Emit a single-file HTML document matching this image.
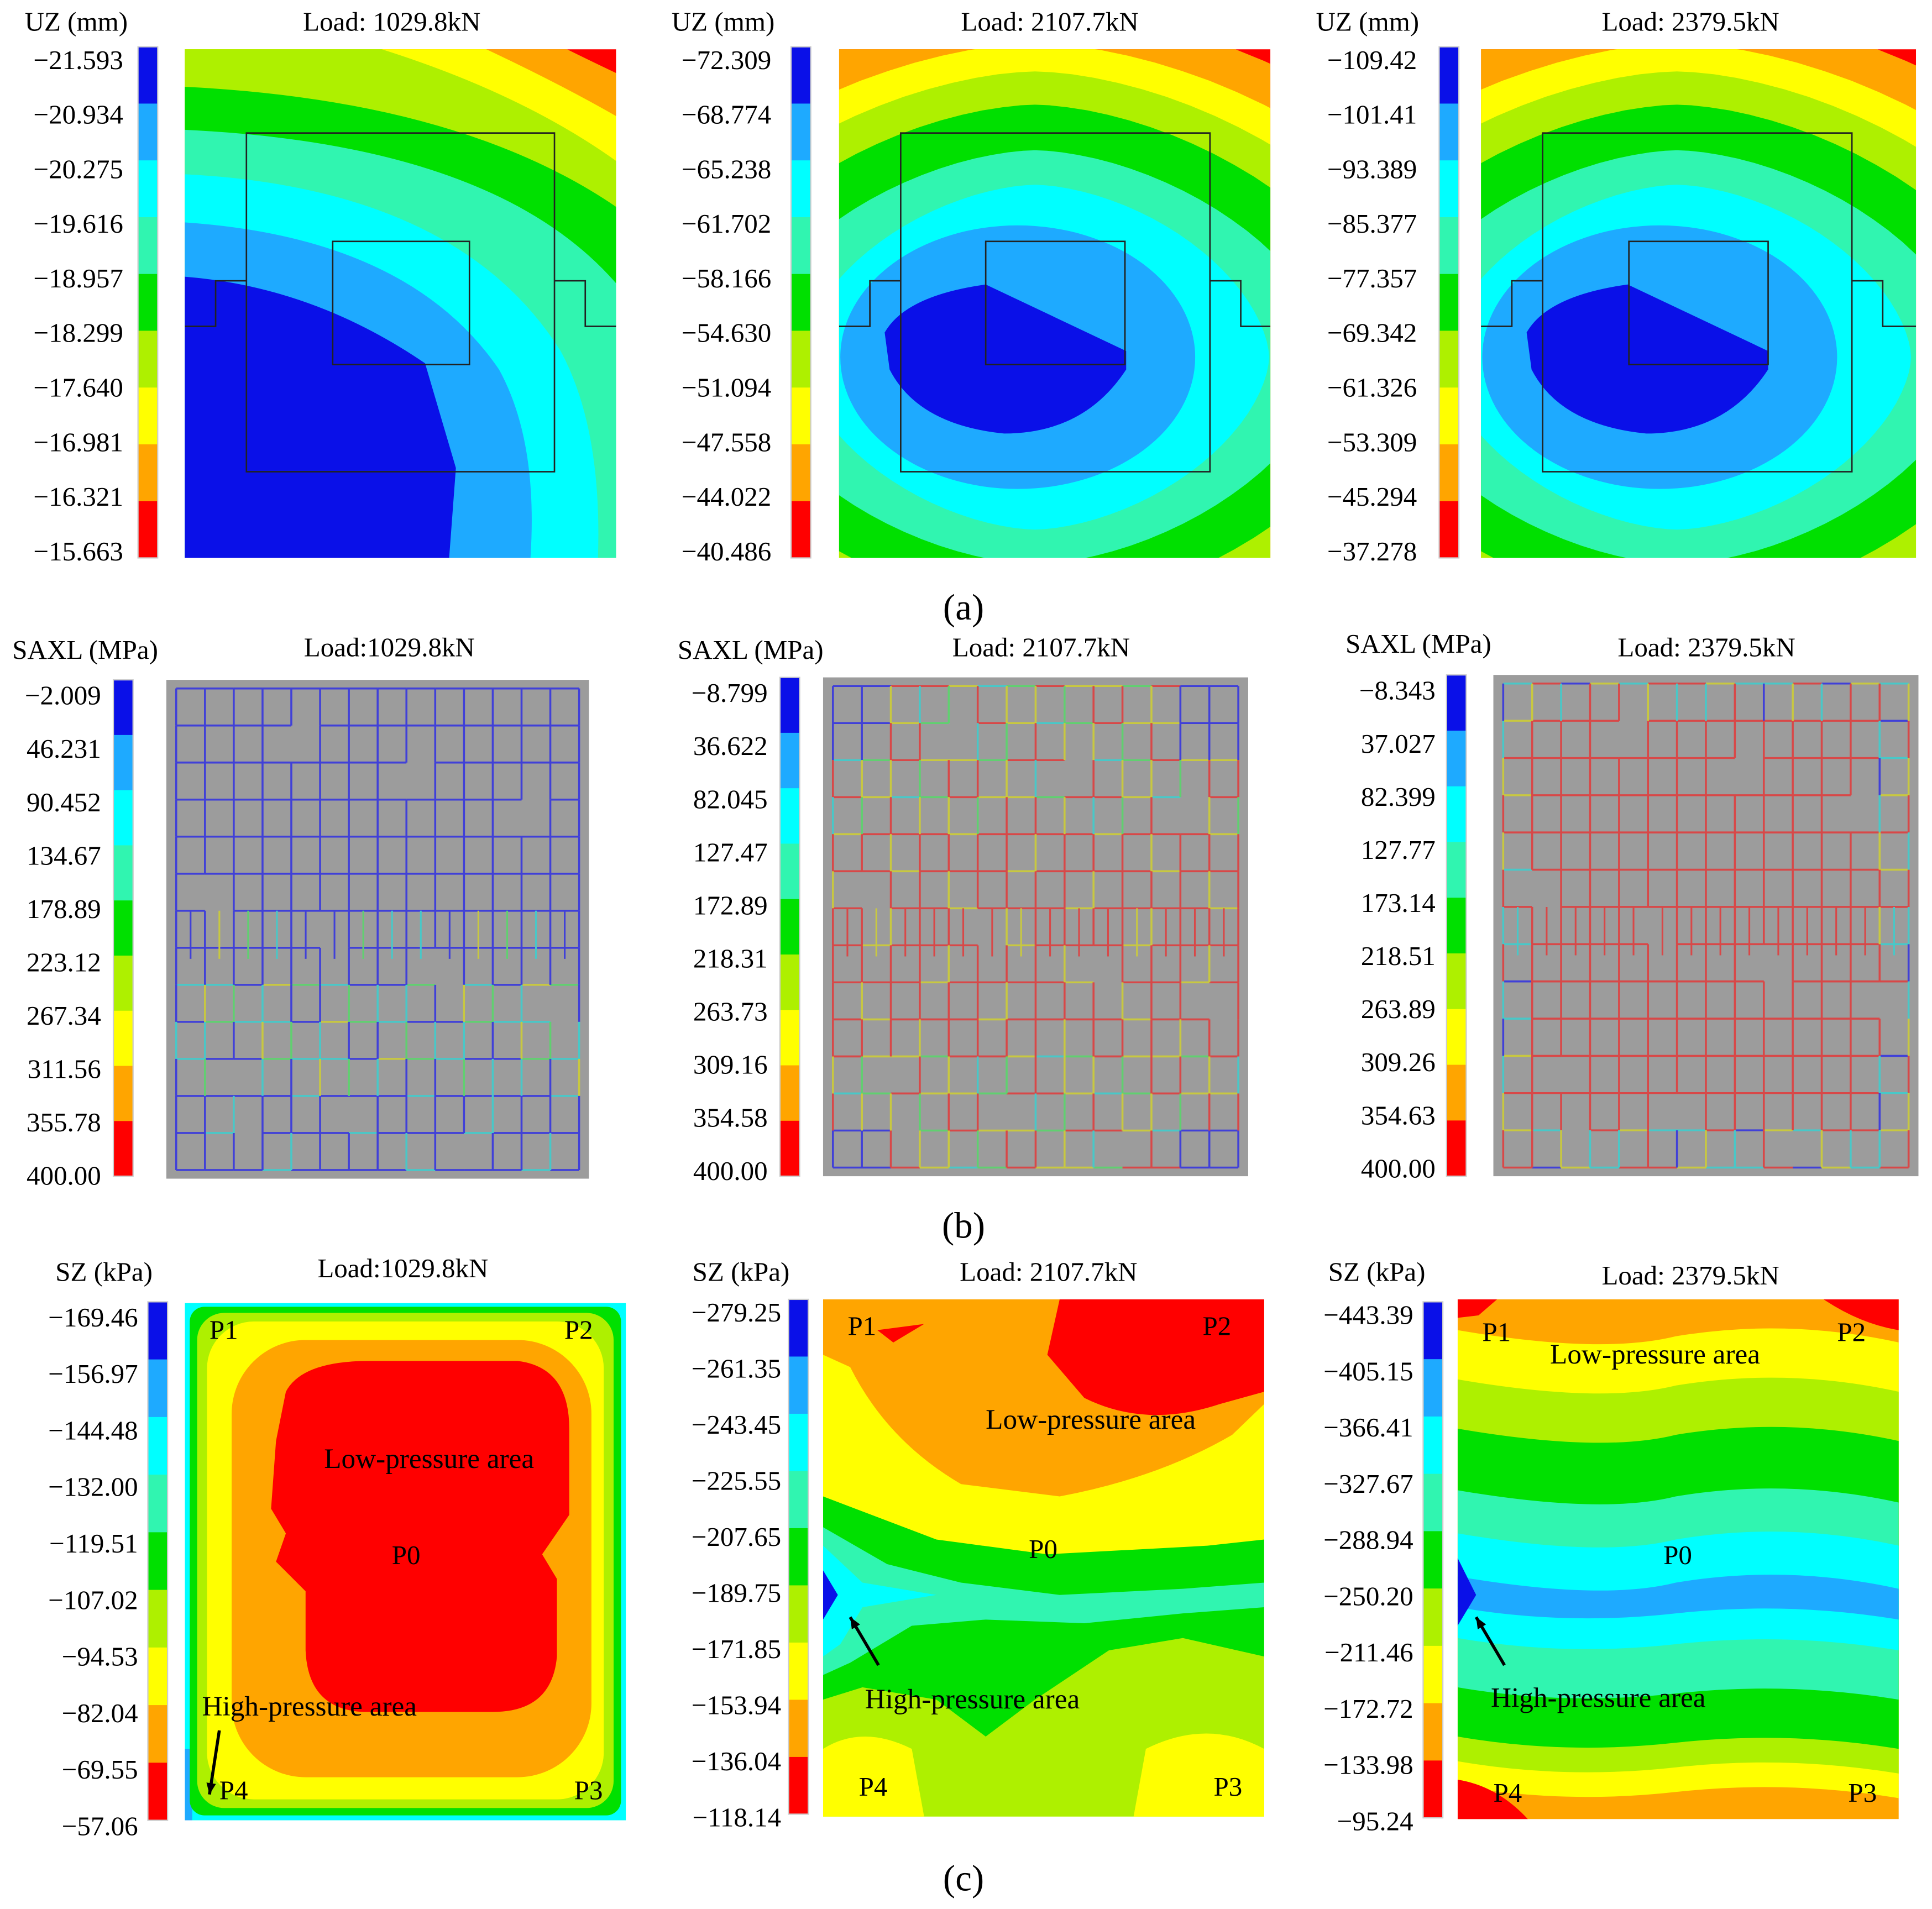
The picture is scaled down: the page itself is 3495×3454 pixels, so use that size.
<!DOCTYPE html>
<html><head><meta charset="utf-8"><style>
html,body{margin:0;padding:0;background:#fff;}
svg{display:block;}
text{font-family:"Liberation Serif",serif;fill:#000;}
</style></head><body>
<svg id="fig" width="3495" height="3454" viewBox="0 0 1568 1550" preserveAspectRatio="none" xmlns="http://www.w3.org/2000/svg">
<defs>
<clipPath id="ca1"><rect x="150" y="40" width="350" height="413"/></clipPath>
<clipPath id="ca2"><rect x="681" y="40" width="350" height="413"/></clipPath>
<clipPath id="ca3"><rect x="1202" y="40" width="353" height="413"/></clipPath>
<clipPath id="cc1"><rect x="150" y="1058" width="358" height="420"/></clipPath>
<clipPath id="cc2"><rect x="668" y="1055" width="358" height="420"/></clipPath>
<clipPath id="cc3"><rect x="1183" y="1055" width="358" height="422"/></clipPath>
</defs>
<g id="root"></g>
</svg>
<script>
var NS="http://www.w3.org/2000/svg";
var root=document.getElementById('root');
var COLORS=["#0a10e8","#1eaaff","#00ffff","#30f5b0","#00e000","#aef000","#ffff00","#ffa500","#ff0000"];
var uzLabels1=["−21.593","−20.934","−20.275","−19.616","−18.957","−18.299","−17.640","−16.981","−16.321","−15.663"];
var uzLabels2=["−72.309","−68.774","−65.238","−61.702","−58.166","−54.630","−51.094","−47.558","−44.022","−40.486"];
var uzLabels3=["−109.42","−101.41","−93.389","−85.377","−77.357","−69.342","−61.326","−53.309","−45.294","−37.278"];
var saxlLabels1=["−2.009","46.231","90.452","134.67","178.89","223.12","267.34","311.56","355.78","400.00"];
var saxlLabels2=["−8.799","36.622","82.045","127.47","172.89","218.31","263.73","309.16","354.58","400.00"];
var saxlLabels3=["−8.343","37.027","82.399","127.77","173.14","218.51","263.89","309.26","354.63","400.00"];
var szLabels1=["−169.46","−156.97","−144.48","−132.00","−119.51","−107.02","−94.53","−82.04","−69.55","−57.06"];
var szLabels2=["−279.25","−261.35","−243.45","−225.55","−207.65","−189.75","−171.85","−153.94","−136.04","−118.14"];
var szLabels3=["−443.39","−405.15","−366.41","−327.67","−288.94","−250.20","−211.46","−172.72","−133.98","−95.24"];

function el(tag,attrs,parent){var e=document.createElementNS(NS,tag);for(var k in attrs)e.setAttribute(k,attrs[k]);(parent||root).appendChild(e);return e;}
function txt(x,y,s,size,anchor,name,parent){var t=el('text',{x:x,y:y,'font-size':size,'text-anchor':anchor||'start'},parent);t.textContent=s;


return t;}
function colorbar(x,y0,y1,labels,lx,ly0,ly1,name){
  var g=el('g',{});
  
  
  var h=(y1-y0)/9;
  for(var i=0;i<9;i++){el('rect',{x:x,y:y0+i*h,width:16,height:h+0.3,fill:COLORS[i]},g);}
  el('rect',{x:x,y:y0,width:16,height:y1-y0,fill:'none',stroke:'#ccc','stroke-width':1},g);
  for(var j=0;j<labels.length;j++){txt(lx,ly0+(ly1-ly0)*j/9,labels[j],22,'end','colorbar-label',g);}
}
function grp(name,clip){var g=el('g',clip?{'clip-path':'url(#'+clip+')'}:{});


return g;}
function superEllipse(cx,cy,rx,ry,n){
  var pts=[];for(var k=0;k<96;k++){var t=k/96*2*Math.PI,c=Math.cos(t),s=Math.sin(t);
    pts.push((cx+rx*Math.sign(c)*Math.pow(Math.abs(c),2/n)).toFixed(1)+','+(cy+ry*Math.sign(s)*Math.pow(Math.abs(s),2/n)).toFixed(1));}
  return pts.join(' ');
}

/* ---------- Row (a) ---------- */
txt(20,25,"UZ (mm)",22,'start','uz-title-1');
txt(318,25,"Load: 1029.8kN",22,'middle','load-title-a1');
txt(545,25,"UZ (mm)",22,'start','uz-title-2');
txt(852,25,"Load: 2107.7kN",22,'middle','load-title-a2');
txt(1068,25,"UZ (mm)",22,'start','uz-title-3');
txt(1372,25,"Load: 2379.5kN",22,'middle','load-title-a3');
colorbar(112,38,453,uzLabels1,100,56,455,'uz-colorbar-1');
colorbar(642,38,453,uzLabels2,626,56,455,'uz-colorbar-2');
colorbar(1168,38,453,uzLabels3,1150,56,455,'uz-colorbar-3');

(function(){
  var g=grp('uz-contour-1','ca1');
  el('rect',{x:150,y:40,width:350,height:413,fill:COLORS[8]},g);
  var P=[
   [7,'M 440 30 Q 480 50 510 64',true],
   [6,'M 373 30 Q 450 65 510 100',true],
   [5,'M 276 30 Q 420 70 510 138',true],
   [4,'M 140 70 Q 380 80 510 175',false],
   [3,'M 140 105 Q 400 115 500 230 L 510 300',false],
   [2,'M 140 141 Q 370 150 455 285 Q 490 350 485 460',false],
   [1,'M 140 180 Q 330 190 405 300 Q 438 360 430 460',false],
   [0,'M 140 224 Q 250 230 345 295 L 370 380 L 364 460',false]];
  for(var i=0;i<P.length;i++){el('path',{d:P[i][1]+' L 510 470 L 140 470'+(P[i][2]?' L 140 30':'')+' Z',fill:COLORS[P[i][0]]},g);}
})();
function uzCentral(cx,cy,clip,name,xs){
  var g=grp(name,clip);
  el('rect',{x:xs,y:40,width:355,height:413,fill:COLORS[8]},g);
  var rs=[[420,285],[370,255],[330,232],[290,205],[240,168],[190,140]];
  var cs=[7,6,5,4,3,2];
  for(var i=0;i<rs.length;i++)el('polygon',{points:superEllipse(cx,cy,rs[i][0],rs[i][1],1.7),fill:COLORS[cs[i]]},g);
  el('ellipse',{cx:cx-14,cy:cy,rx:144,ry:107,fill:COLORS[1]},g);
  var dx=cx-840;
  el('path',{d:'M '+(718+dx)+' 270 Q '+(735+dx)+' 240 '+(800+dx)+' 231 L '+(914+dx)+' 285 L '+(914+dx)+' 300 Q '+(880+dx)+' 352 '+(815+dx)+' 352 Q '+(745+dx)+' 345 '+(722+dx)+' 300 Z',fill:COLORS[0]},g);
}
uzCentral(840,290,'ca2','uz-contour-2',681);
uzCentral(1361,290,'ca3','uz-contour-3',1202);
(function(){
  var ol=[[0,200,450,270,381,150,500],[1,731,982,800,913,681,1031],[2,1252,1503,1322,1435,1202,1555]];
  for(var i=0;i<3;i++){var o=ol[i];var g=grp('column-outline-'+(i+1));
    el('rect',{x:o[1],y:108,width:o[2]-o[1],height:275,fill:'none',stroke:'#222','stroke-width':1.2},g);
    el('rect',{x:o[3],y:196,width:o[4]-o[3],height:100,fill:'none',stroke:'#222','stroke-width':1.2},g);
    el('path',{d:'M '+o[5]+' 265 L '+(o[5]+25)+' 265 L '+(o[5]+25)+' 228 L '+o[1]+' 228',fill:'none',stroke:'#222','stroke-width':1.2},g);
    el('path',{d:'M '+o[2]+' 228 L '+(o[2]+25)+' 228 L '+(o[2]+25)+' 265 L '+o[6]+' 265',fill:'none',stroke:'#222','stroke-width':1.2},g);
  }
})();
txt(782,503,"(a)",30,'middle','subfigure-label-a');

/* ---------- Row (b) ---------- */
txt(10,535,"SAXL (MPa)",22,'start','saxl-title-1');
txt(316,533,"Load:1029.8kN",22,'middle','load-title-b1');
txt(550,535,"SAXL (MPa)",22,'start','saxl-title-2');
txt(845,533,"Load: 2107.7kN",22,'middle','load-title-b2');
txt(1092,530,"SAXL (MPa)",22,'start','saxl-title-3');
txt(1385,533,"Load: 2379.5kN",22,'middle','load-title-b3');
colorbar(92,552,955,saxlLabels1,82,572,962,'saxl-colorbar-1');
colorbar(633,550,955,saxlLabels2,623,570,958,'saxl-colorbar-2');
colorbar(1174,548,955,saxlLabels3,1165,568,956,'saxl-colorbar-3');
function mesh(x0,y0,w,h,mode,name){
  var g=grp(name);
  el('rect',{x:x0,y:y0,width:w,height:h,fill:'#9c9c9c'},g);
  var ix=x0+8,iy=y0+7,iw=w-16,ih=h-14,nc=14,nr=13;
  var cw=iw/nc,rh=ih/nr;
  function col(i,j,vert){
    var r=j/nr,edge=(i<=0||i>=nc-1||j<=0||j>=nr-1);
    var hsh=(i*7+j*13+(vert?5:0))%9;
    if(mode===1){ if(r>0.58&&r<0.78) return hsh<3?'#4040d8':(hsh<6?'#48c8c8':(hsh<8?'#60d070':'#c8c840'));
      if(r>=0.78) return hsh<2?'#48c8c8':'#4040d8'; return '#4040d8';}
    if(mode===2){ var corner=((i<=1||i>=nc-2)&&(j<=1||j>=nr-1)); if(corner) return '#4040d8';
      if(r>0.3&&r<0.75) return hsh<7?'#d84848':'#c8c840';
      return hsh<3?'#c8c840':(hsh<6?'#d84848':(hsh<8?'#60d070':'#48c8c8'));}
    if(edge) return hsh<3?'#48c8c8':(hsh<5?'#c8c840':(hsh<6?'#4040d8':'#d84848'));
    return '#d84848';
  }
  for(var j=0;j<=nr;j++)for(var i=0;i<nc;i++){
    if(((i*5+j*3)%23)===0&&j>0&&j<nr)continue;
    el('line',{x1:ix+i*cw,y1:iy+j*rh,x2:ix+(i+1)*cw,y2:iy+j*rh,stroke:col(i,j,false),'stroke-width':1.6},g);}
  for(var i2=0;i2<=nc;i2++)for(var j2=0;j2<nr;j2++){
    if(((i2*3+j2*7)%19)===0&&i2>0&&i2<nc)continue;
    el('line',{x1:ix+i2*cw,y1:iy+j2*rh,x2:ix+i2*cw,y2:iy+(j2+1)*rh,stroke:col(i2,j2,true),'stroke-width':1.6},g);}
  for(var k=0;k<nc;k++){var xx=ix+(k+0.5)*cw;
    el('line',{x1:xx,y1:iy+6*rh,x2:xx,y2:iy+7.3*rh,stroke:col(k,8,true),'stroke-width':1.4},g);}
}
mesh(135,552,343,405,1,'saxl-mesh-1');
mesh(668,550,345,405,2,'saxl-mesh-2');
mesh(1212,548,345,407,3,'saxl-mesh-3');
txt(782,1005,"(b)",30,'middle','subfigure-label-b');

/* ---------- Row (c) ---------- */
txt(45,1040,"SZ (kPa)",22,'start','sz-title-1');
txt(327,1037,"Load:1029.8kN",22,'middle','load-title-c1');
txt(562,1040,"SZ (kPa)",22,'start','sz-title-2');
txt(851,1040,"Load: 2107.7kN",22,'middle','load-title-c2');
txt(1078,1040,"SZ (kPa)",22,'start','sz-title-3');
txt(1372,1043,"Load: 2379.5kN",22,'middle','load-title-c3');
colorbar(120,1057,1478,szLabels1,112,1077,1490,'sz-colorbar-1');
colorbar(640,1055,1473,szLabels2,634,1073,1483,'sz-colorbar-2');
colorbar(1155,1057,1476,szLabels3,1147,1075,1486,'sz-colorbar-3');
(function(){
  var g=grp('sz-contour-1','cc1');
  el('rect',{x:150,y:1058,width:358,height:420,fill:COLORS[2]},g);
  el('rect',{x:150,y:1420,width:6,height:58,fill:COLORS[1]},g);
  el('rect',{x:154,y:1061,width:350,height:413,rx:12,fill:COLORS[4]},g);
  el('rect',{x:160,y:1066,width:338,height:402,rx:22,fill:COLORS[5]},g);
  el('rect',{x:168,y:1073,width:322,height:388,rx:38,fill:COLORS[6]},g);
  el('rect',{x:188,y:1088,width:292,height:355,rx:60,fill:COLORS[7]},g);
  el('path',{d:'M 232 1130 Q 245 1105 300 1105 L 420 1105 Q 462 1110 462 1160 L 462 1230 L 440 1262 L 452 1282 L 452 1345 Q 448 1390 400 1390 L 295 1390 Q 250 1388 248 1340 L 248 1292 L 224 1268 L 232 1245 L 220 1225 L 224 1170 Z',fill:COLORS[8]},g);
})();
(function(){
  var g=grp('sz-contour-2','cc2');
  el('rect',{x:668,y:1055,width:358,height:420,fill:COLORS[5]},g);
  el('path',{d:'M 668 1055 L 1026 1055 L 1026 1300 L 960 1290 Q 900 1300 850 1290 L 760 1290 L 668 1270 Z',fill:COLORS[6]},g);
  el('path',{d:'M 668 1215 L 760 1250 L 850 1262 L 980 1255 L 1026 1250 L 1026 1345 L 960 1330 L 900 1340 L 840 1380 L 800 1410 L 760 1380 L 700 1370 L 668 1380 Z',fill:COLORS[4]},g);
  el('path',{d:'M 668 1240 L 720 1270 L 780 1285 L 860 1295 L 960 1290 L 1026 1285 L 1026 1305 L 960 1310 L 880 1318 L 800 1315 L 740 1320 L 690 1350 L 668 1360 Z',fill:COLORS[3]},g);
  el('path',{d:'M 668 1255 L 700 1285 L 760 1295 L 700 1305 L 682 1335 L 668 1345 Z',fill:COLORS[2]},g);
  el('path',{d:'M 668 1275 L 680 1295 L 668 1315 Z',fill:COLORS[0]},g);
  el('path',{d:'M 668 1055 L 1026 1055 L 1026 1140 L 1000 1165 Q 940 1200 860 1215 L 780 1205 Q 720 1170 690 1110 L 668 1100 Z',fill:COLORS[7]},g);
  el('path',{d:'M 860 1055 L 1026 1055 L 1026 1130 L 990 1140 Q 930 1160 880 1135 L 850 1100 Z',fill:COLORS[8]},g);
  el('path',{d:'M 712 1080 L 750 1075 L 725 1090 Z',fill:COLORS[8]},g);
  el('path',{d:'M 668 1420 Q 700 1400 740 1420 L 750 1475 L 668 1475 Z',fill:COLORS[6]},g);
  el('path',{d:'M 920 1475 L 930 1420 Q 980 1395 1026 1420 L 1026 1475 Z',fill:COLORS[6]},g);
})();
(function(){
  var g=grp('sz-contour-3','cc3');
  el('rect',{x:1183,y:1055,width:358,height:422,fill:COLORS[7]},g);
  var bands=[[6,1085,1455],[5,1125,1435],[4,1165,1415],[3,1215,1375],[2,1250,1335],[1,1285,1310]];
  for(var i=0;i<bands.length;i++){var b=bands[i];
    el('path',{d:'M 1183 '+(b[1]-5)+' Q 1300 '+(b[1]+15)+' 1360 '+b[1]+' Q 1450 '+(b[1]-15)+' 1541 '+(b[1]+5)+' L 1541 '+(b[2]+5)+' Q 1450 '+(b[2]-10)+' 1360 '+b[2]+' Q 1270 '+(b[2]+10)+' 1183 '+(b[2]-5)+' Z',fill:COLORS[b[0]]},g);}
  el('path',{d:'M 1183 1265 L 1198 1295 L 1183 1320 Z',fill:COLORS[0]},g);
  el('path',{d:'M 1183 1055 L 1215 1055 L 1200 1068 L 1183 1070 Z',fill:COLORS[8]},g);
  el('path',{d:'M 1480 1055 L 1541 1055 L 1541 1080 Q 1510 1075 1480 1055 Z',fill:COLORS[8]},g);
  el('path',{d:'M 1183 1445 Q 1215 1450 1240 1477 L 1183 1477 Z',fill:COLORS[8]},g);
})();
(function(){
  var g=grp('sz-annotations');
  var L=[[170,1087,'P1'],[458,1087,'P2'],[318,1270,'P0'],[178,1461,'P4'],[466,1461,'P3'],
         [688,1084,'P1'],[976,1084,'P2'],[835,1265,'P0'],[697,1458,'P4'],[985,1458,'P3'],
         [1203,1089,'P1'],[1491,1089,'P2'],[1350,1270,'P0'],[1212,1463,'P4'],[1500,1463,'P3']];
  for(var i=0;i<L.length;i++)txt(L[i][0],L[i][1],L[i][2],22,'start','point-label',g);
  txt(263,1192,'Low-pressure area',23,'start','low-pressure-label-1',g);
  txt(164,1393,'High-pressure area',23,'start','high-pressure-label-1',g);
  txt(800,1160,'Low-pressure area',23,'start','low-pressure-label-2',g);
  txt(702,1387,'High-pressure area',23,'start','high-pressure-label-2',g);
  txt(1258,1107,'Low-pressure area',23,'start','low-pressure-label-3',g);
  txt(1210,1386,'High-pressure area',23,'start','high-pressure-label-3',g);
  var A=[[178,1405,170,1457],[713,1352,690,1313],[1221,1352,1198,1313]];
  for(var k=0;k<A.length;k++){var a=A[k];
    el('line',{x1:a[0],y1:a[1],x2:a[2],y2:a[3],stroke:'#000','stroke-width':2.5},g);
    var ang=Math.atan2(a[3]-a[1],a[2]-a[0]),s=10;
    var p1=[a[2]-s*Math.cos(ang-0.4),a[3]-s*Math.sin(ang-0.4)],p2=[a[2]-s*Math.cos(ang+0.4),a[3]-s*Math.sin(ang+0.4)];
    el('path',{d:'M '+a[2]+' '+a[3]+' L '+p1[0]+' '+p1[1]+' L '+p2[0]+' '+p2[1]+' Z',fill:'#000'},g);}
})();
txt(782,1535,"(c)",30,'middle','subfigure-label-c');
</script>
</body></html>
